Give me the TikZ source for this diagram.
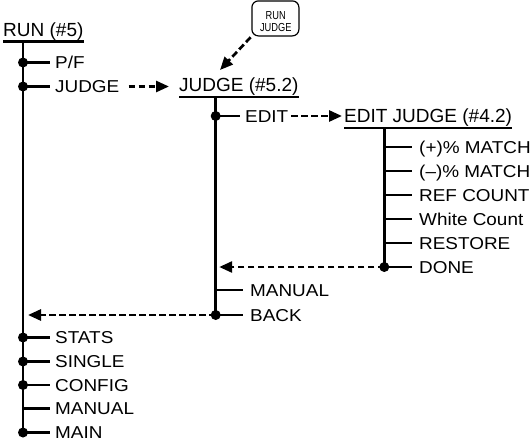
\documentclass[tikz,border=0pt]{standalone}
\usepackage{fontspec}
\setmainfont{Liberation Sans}
\newfontfamily\itemfont[FakeStretch=1.1]{Liberation Sans}
\newfontfamily\keyfont[FakeStretch=0.8]{Liberation Sans}
\usetikzlibrary{arrows.meta}
\begin{document}
\begin{tikzpicture}[x=1pt,y=-1pt,
  tree/.style={line width=2.7pt},
  heading/.style={anchor=base west,inner sep=0pt,font=\fontsize{19}{22}\selectfont},
  item/.style={anchor=west,inner sep=0pt,text height=12pt,text depth=0pt,
    font=\itemfont\fontsize{17.2}{20}\selectfont},
  jump/.style={line width=2.7pt,dash pattern=on 6.7pt off 3.3pt,
    -{Triangle[length=13pt,width=11pt]}},
  dot/.style={circle,fill,inner sep=0pt,minimum size=10pt},
  keycap/.style={draw,rounded corners=6.5pt,line width=1.2pt,
    minimum width=47pt,minimum height=35pt,inner sep=0pt},
  keytext/.style={align=center,inner sep=0pt,
    font=\keyfont\fontsize{11.6}{11.7}\selectfont}]
\useasboundingbox (0,0) rectangle (531,442);

% ---- RUN (#5) menu ----
\node[heading] (run) at (3,36.4) {RUN (\#5)};
\draw[tree] ([yshift=-5.3pt]run.base west) -- ([yshift=-5.3pt]run.base east);
\coordinate (run-top) at (23,41.7);
\foreach \n/\y in {pf/62.5,judge/86.5,stats/337.5,single/361.5,config/385,manual/408.5,main/432.5}
  \coordinate (r-\n) at (23,\y);
\draw[tree] (run-top) -- (r-main);
\node[item] (t-pf)     at (55,62.5)  {P/F};
\node[item] (t-judge)  at (55,86.5)  {JUDGE};
\node[item] (t-stats)  at (55,337.5) {STATS};
\node[item] (t-single) at (55,361.5) {SINGLE};
\node[item] (t-config) at (55,385)   {CONFIG};
\node[item] (t-manual) at (55,408.5) {MANUAL};
\node[item] (t-main)   at (55,432.5) {MAIN};
\foreach \n in {pf,judge,stats,single,config,manual,main}
  \draw[tree] (r-\n) -- ([xshift=-5pt]t-\n.west);
\foreach \n in {pf,judge,stats,single,config,main}
  \node[dot] at (r-\n) {};

% ---- JUDGE (#5.2) menu ----
\node[heading] (jdg) at (179,91.7) {JUDGE (\#5.2)};
\draw[tree] ([yshift=-5.3pt]jdg.base west) -- ([yshift=-5.3pt]jdg.base east);
\coordinate (jdg-top) at (215.7,97);
\coordinate (j-edit) at (215.7,116);
\coordinate (j-done) at (215.7,267);
\coordinate (j-manual) at (215.7,290);
\coordinate (j-back) at (215.7,315);
\draw[tree] (jdg-top) -- (j-back);
\node[item] (t-edit)    at (245,116) {EDIT};
\node[item] (t-jmanual) at (250,290) {MANUAL};
\node[item] (t-back)    at (250,315) {BACK};
\draw[tree] (j-edit) -- ([xshift=-5pt]t-edit.west);
\draw[tree] (j-manual) -- ([xshift=-7pt]t-jmanual.west);
\draw[tree] (j-back) -- ([xshift=-7pt]t-back.west);
\node[dot] at (j-edit) {};
\node[dot] at (j-back) {};

% ---- EDIT JUDGE (#4.2) menu ----
\node[heading] (ej) at (344,122.6) {EDIT JUDGE (\#4.2)};
\draw[tree] ([yshift=-5.3pt]ej.base west) -- ([yshift=-5.3pt]ej.base east);
\coordinate (ej-top) at (384.3,127.9);
\foreach \n/\y in {pm/147,mm/171,ref/195,white/219,restore/243,done/267}
  \coordinate (e-\n) at (384.3,\y);
\draw[tree] (ej-top) -- (e-done);
\node[item] (t-pm)      at (419,147) {(+)\% MATCH};
\node[item] (t-mm)      at (419,171) {(–)\% MATCH};
\node[item] (t-ref)     at (419,195) {REF COUNT};
\node[item] (t-white)   at (419,219) {White Count};
\node[item] (t-restore) at (419,243) {RESTORE};
\node[item] (t-done)    at (419,267) {DONE};
\foreach \n in {pm,mm,ref,white,restore,done}
  \draw[tree] (e-\n) -- ([xshift=-7pt]t-\n.west);
\node[dot] at (e-done) {};

% ---- jumps between menus ----
\draw[jump,shorten <=9pt,shorten >=10pt] (t-judge.east) -- (t-judge.east -| jdg.west);
\draw[jump,shorten <=3pt,shorten >=2pt] (t-edit.east) -- (t-edit.east -| ej.west);
\draw[jump,shorten >=3.5pt] (e-done) -- (j-done);
\draw[jump,shorten >=5pt] (j-back) -- (j-back -| run-top);

% ---- RUN JUDGE key ----
\node[keycap] (key) at (275.4,18.4) {};
\node[keytext] (keylabel) at (275.8,21.8) {RUN\\JUDGE};
\coordinate (key-tip) at (220,70);
\draw[jump,shorten <=1pt] (key.south west) -- (key-tip);
\end{tikzpicture}
\end{document}
